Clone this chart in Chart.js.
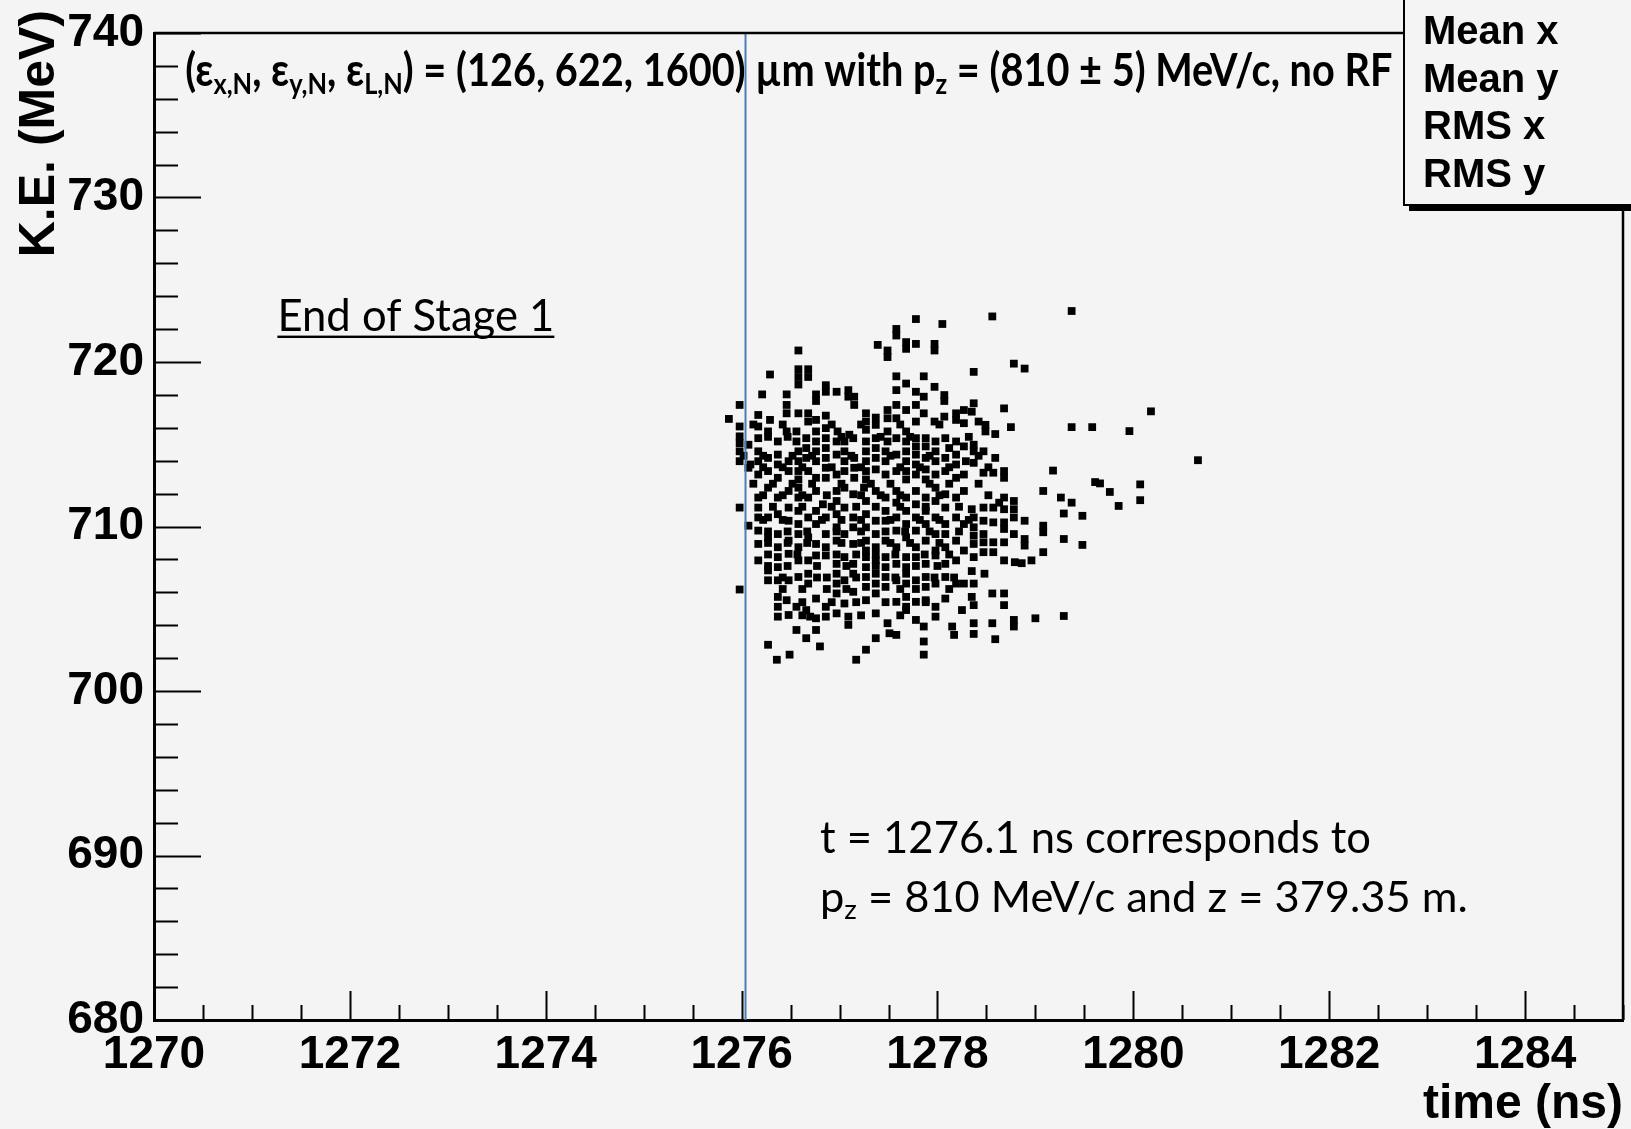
<!DOCTYPE html>
<html lang="en">
<head>
  <meta charset="UTF-8">
  <title>End of Stage 1 - K.E. vs time</title>
  <script src="https://cdn.jsdelivr.net/npm/chart.js"></script>
  <style>
    html, body { margin: 0; padding: 0; background: #f4f4f4; }
    #wrap { width: 1631px; height: 1129px; }
  </style>
</head>
<body>
<div id="wrap"><canvas id="phaseChart" width="1631" height="1129"></canvas></div>
<script>
// axis ranges and tick labels
const timeRange = [1270, 1285];
const energyRange = [680, 740];
const timeTicks = [1270, 1272, 1274, 1276, 1278, 1280, 1282, 1284];
const energyTicks = [680, 690, 700, 710, 720, 730, 740];
const timeMinorStep = 0.5;
const energyMinorStep = 2;
const referenceTime = 1276.04;   // blue marker line
const statLabels = ['Mean x', 'Mean y', 'RMS x', 'RMS y'];

// particles: [time (ns), K.E. (MeV)]
const haloTop = [
  [1279.37,723.10],[1278.56,722.77],[1277.78,722.61],[1278.05,722.31],[1277.58,722.01],[1277.58,721.61],
  [1277.39,721.04],[1277.68,721.21],[1277.68,720.80],[1277.78,721.10],[1277.97,721.10],[1277.97,720.70],
  [1277.49,720.70],[1277.49,720.30],[1276.58,720.70],[1278.78,719.90],[1278.89,719.60],[1278.37,719.40],
  [1276.29,719.24],[1276.58,719.56],[1276.68,719.56],[1276.58,719.09],[1276.68,719.09],[1276.58,718.63],
  [1277.58,719.13],[1277.86,719.13],[1277.68,718.69],[1276.86,718.59],[1277.97,718.49]
];
const coreUpper = [
  [1276.21,718.03],[1276.46,718.03],[1276.76,718.03],[1276.76,717.63],[1276.86,718.19],[1276.97,718.19],
  [1277.09,718.29],[1277.09,717.89],[1277.15,717.89],[1277.15,717.39],[1277.58,718.29],[1277.78,718.19],
  [1277.86,717.89],[1278.07,717.99],[1278.07,717.63],[1277.78,717.39],[1275.98,717.39],[1276.46,717.39],
  [1277.58,717.39],[1278.37,717.49],[1275.87,716.54],[1276.17,716.78],[1276.29,716.48],[1276.58,716.88],
  [1276.68,716.88],[1276.46,716.88],[1276.86,716.74],[1276.76,716.48],[1276.68,716.38],[1277.27,716.88],
  [1277.27,716.38],[1277.37,716.62],[1277.37,716.18],[1277.49,717.08],[1277.49,716.58],[1277.58,716.58],
  [1277.68,717.08],[1277.86,716.88],[1277.78,716.38],[1277.97,716.38],[1278.07,716.68],[1278.19,716.88],
  [1278.27,717.08],[1278.35,716.98],[1278.19,716.48],[1278.27,716.28],[1275.98,716.08],[1276.17,716.08],
  [1276.27,715.78],[1276.46,715.78],[1276.56,715.78],[1276.86,715.98],[1276.98,715.78],[1277.10,715.58],
  [1277.68,715.78],[1277.49,715.78],[1278.42,716.38],[1278.49,716.18],[1278.49,715.78],[1278.59,715.62],
  [1277.27,715.88],[1276.76,715.78]
];
const coreMiddle = [
  [1275.98,715.48],[1275.98,715.07],[1276.07,714.97],[1276.17,715.37],[1276.37,715.17],[1276.56,715.17],
  [1276.66,715.37],[1276.76,715.17],[1276.86,715.37],[1276.97,715.17],[1277.05,715.17],[1277.14,715.37],
  [1277.27,715.17],[1277.37,715.37],[1277.49,715.17],[1277.78,715.37],[1277.78,714.87],[1277.88,715.37],
  [1277.88,714.87],[1277.98,715.17],[1278.08,715.37],[1278.12,714.77],[1278.19,715.17],[1278.27,714.87],
  [1278.37,714.97],[1278.37,714.57],[1278.47,714.57],[1278.59,714.17],[1277.58,715.37],[1277.68,715.17],
  [1275.98,714.57],[1275.98,713.97],[1276.09,713.77],[1276.17,714.57],[1276.17,713.97],[1276.27,714.17],
  [1276.37,714.37],[1276.37,713.77],[1276.48,713.97],[1276.58,714.57],[1276.58,713.97],[1276.66,714.77],
  [1276.66,714.17],[1276.76,714.57],[1276.76,713.97],[1276.86,714.77],[1276.86,714.17],[1276.97,714.37],
  [1277.05,714.57],[1277.05,713.97],[1277.15,714.17],[1277.27,714.57],[1277.27,713.97],[1277.37,714.77],
  [1277.37,714.17],[1277.47,714.57],[1277.47,713.97],[1277.58,714.37],[1277.68,714.57],[1277.68,713.97],
  [1277.78,714.37],[1277.78,713.77],[1277.88,714.17],[1277.98,714.57],[1277.98,713.97],[1278.08,714.17],
  [1278.19,714.37],[1278.19,713.77],[1278.29,713.97],[1278.37,713.87],
  [1276.07,713.57],[1276.17,713.16],[1276.27,713.37],[1276.37,712.96],[1276.48,713.37],[1276.58,713.37],
  [1276.58,712.86],[1276.68,713.37],[1276.76,712.96],[1276.86,713.57],[1276.86,712.96],[1276.97,713.16],
  [1277.05,713.37],[1277.15,713.57],[1277.15,712.96],[1277.27,713.37],[1277.27,712.86],[1277.37,713.47],
  [1277.47,713.16],[1277.58,713.37],[1277.68,713.37],[1277.68,712.86],[1277.78,713.16],[1277.88,713.47],
  [1277.88,712.86],[1277.98,713.16],[1278.08,713.37],[1278.19,712.96],[1278.27,713.16],[1278.47,713.27],
  [1278.57,713.27],[1278.68,713.37],[1278.68,712.96]
];
const coreLower = [
  [1276.17,711.76],[1276.27,712.36],[1276.37,711.76],[1276.48,712.16],[1276.58,712.36],[1276.58,711.76],
  [1276.68,711.76],[1276.76,712.16],[1276.83,711.35],[1276.97,712.16],[1276.97,711.55],[1277.05,712.36],
  [1277.14,711.96],[1277.25,712.36],[1277.27,711.55],[1277.37,712.16],[1277.47,711.76],[1277.58,712.16],
  [1277.58,711.45],[1277.68,711.76],[1277.78,712.16],[1277.78,711.35],[1277.88,711.76],[1277.98,712.36],
  [1277.98,711.55],[1278.08,711.96],[1278.19,711.76],[1278.27,712.16],[1275.98,711.15],
  [1276.07,710.05],[1276.17,710.55],[1276.17,711.15],[1276.27,710.55],[1276.37,710.75],[1276.48,711.15],
  [1276.48,710.35],[1276.58,710.95],[1276.58,710.15],[1276.68,710.55],[1276.76,710.95],[1276.76,710.15],
  [1276.86,710.55],[1276.97,710.75],[1276.97,709.95],[1277.05,711.15],[1277.14,710.55],[1277.14,709.95],
  [1277.27,710.75],[1277.27,709.95],[1277.37,710.35],[1277.47,710.95],[1277.47,710.35],[1277.58,710.55],
  [1277.68,710.95],[1277.68,710.15],[1277.78,710.55],[1277.88,710.95],[1277.88,710.15],[1277.98,710.55],
  [1278.08,711.15],[1278.08,710.15],[1278.19,710.55],[1278.27,710.15],
  [1276.17,709.75],[1276.17,708.94],[1276.27,709.34],[1276.37,709.54],[1276.37,708.74],[1276.48,709.14],
  [1276.58,709.54],[1276.58,708.74],[1276.68,709.34],[1276.76,708.94],[1276.86,709.54],[1276.86,708.74],
  [1276.97,709.14],[1277.05,709.54],[1277.14,708.94],[1277.27,709.14],[1277.27,708.54],[1277.37,709.54],
  [1277.37,708.74],[1277.47,709.14],[1277.58,709.75],[1277.58,708.74],[1277.68,709.34],[1277.78,709.75],
  [1277.78,708.74],[1277.88,709.14],[1277.98,708.54],[1277.98,709.54],[1278.08,709.54],[1278.08,708.74],
  [1278.19,709.14],[1278.27,708.54]
];
const coreBottom = [
  [1276.17,707.94],[1276.27,707.33],[1276.37,708.14],[1276.37,707.53],[1276.48,708.34],[1276.58,707.94],
  [1276.68,707.94],[1276.76,708.24],[1276.86,708.24],[1276.97,707.73],[1277.05,708.14],[1277.14,707.73],
  [1277.27,708.14],[1277.27,707.53],[1277.37,707.94],[1277.47,708.14],[1277.47,707.53],[1277.58,707.73],
  [1277.68,708.14],[1277.68,707.53],[1277.78,708.14],[1277.88,707.73],[1277.98,708.24],[1278.08,707.73],
  [1278.19,707.94],
  [1276.27,706.73],[1276.37,706.73],[1276.48,706.73],[1276.58,706.93],[1276.68,707.13],[1276.68,706.53],
  [1276.97,707.13],[1276.97,706.53],[1277.05,706.73],[1277.14,707.13],[1277.27,706.93],[1277.27,706.33],
  [1277.37,707.13],[1277.37,706.53],[1277.47,706.93],[1277.47,706.33],[1277.58,706.73],[1277.68,707.13],
  [1277.68,706.53],[1277.78,706.73],[1277.88,706.93],[1277.88,706.33],[1277.98,706.53],[1278.08,706.93],
  [1278.19,706.53],[1278.27,706.53],[1275.98,706.17],
  [1276.37,705.72],[1276.46,705.52],[1276.37,705.12],[1276.56,705.12],[1276.66,704.92],[1276.76,705.62],
  [1276.86,705.12],[1276.97,705.93],[1277.05,705.32],[1277.14,706.03],[1277.27,705.52],[1277.37,705.93],
  [1277.58,705.42],[1277.68,705.72],[1277.68,705.12],[1277.78,705.42],[1277.88,705.52],[1277.98,705.12],
  [1278.08,705.62],[1278.25,704.92],
  [1276.37,704.52],[1276.48,704.62],[1276.70,704.52],[1276.76,704.42],[1276.86,704.52],[1276.97,704.72],
  [1277.09,704.52],[1277.09,704.02],[1277.37,704.72],[1277.49,704.12],[1277.68,704.92],[1277.78,704.32],
  [1277.86,703.92],[1277.98,704.52],[1278.15,703.92]
];
// extra points in the crowded centre, between the rows above
const coreFill = [
  [1276.12,716.20],[1276.42,716.20],[1276.92,716.20],[1277.22,716.20],[1277.62,716.20],[1278.02,716.20],
  [1276.27,715.45],[1276.47,715.45],[1277.02,715.45],[1277.42,715.45],[1277.72,715.45],[1278.32,715.45],
  [1276.02,714.30],[1276.22,714.30],[1276.52,714.30],[1276.72,714.30],[1277.12,714.30],[1277.52,714.30],
  [1277.92,714.30],[1278.42,714.30],
  [1276.22,713.60],[1276.42,713.60],[1276.62,713.60],[1276.92,713.60],[1277.22,713.60],[1277.62,713.60],
  [1277.82,713.60],[1278.12,713.60],[1278.52,713.60],
  [1276.12,712.60],[1276.32,712.60],[1276.52,712.60],[1276.72,712.60],[1277.02,712.60],[1277.32,712.60],
  [1277.52,712.60],[1277.92,712.60],[1278.12,712.60],[1278.42,712.60],
  [1276.22,711.90],[1276.42,711.90],[1276.62,711.90],[1276.87,711.90],[1277.22,711.90],[1277.42,711.90],
  [1277.62,711.90],[1278.02,711.90],[1278.52,711.90],
  [1276.32,711.20],[1276.62,711.20],[1276.92,711.20],[1277.17,711.20],[1277.37,711.20],[1277.62,711.20],
  [1277.88,711.20],[1278.22,711.20],
  [1276.22,710.40],[1276.42,710.40],[1276.82,710.40],[1277.02,710.40],[1277.22,710.40],[1277.52,710.40],
  [1277.82,710.40],[1278.02,710.40],[1278.32,710.40],
  [1276.27,709.70],[1276.47,709.70],[1276.67,709.70],[1276.97,709.70],[1277.22,709.70],[1277.47,709.70],
  [1277.67,709.70],[1277.92,709.70],[1278.22,709.70],
  [1276.27,709.00],[1276.47,709.00],[1276.67,709.00],[1277.02,709.00],[1277.22,709.00],[1277.52,709.00],
  [1277.72,709.00],[1278.02,709.00],
  [1276.27,708.30],[1276.57,708.30],[1276.97,708.30],[1277.17,708.30],[1277.37,708.30],[1277.57,708.30],
  [1277.87,708.30],[1278.12,708.30],
  [1276.27,707.60],[1276.47,707.60],[1276.77,707.60],[1277.07,707.60],[1277.37,707.60],[1277.78,707.60],
  [1278.00,707.60],
  [1276.42,706.90],[1276.77,706.90],[1276.87,706.90],[1277.17,706.90],[1277.57,706.90],[1277.97,706.90],
  [1278.17,706.90],
  [1276.42,706.20],[1276.62,706.20],[1276.87,706.20],[1277.07,706.20],[1277.62,706.20],[1277.78,706.20],
  [1278.12,706.20],
  [1276.62,705.40],[1276.92,705.40],[1277.17,705.40],[1277.47,705.40],[1277.88,705.40],
  [1276.62,704.60],[1277.22,704.60],[1277.62,704.60]
];
const haloBottom = [
  [1276.27,702.81],[1276.56,703.71],[1276.66,703.21],[1276.76,703.71],[1276.80,702.71],[1276.36,701.90],
  [1276.49,702.21],[1277.17,701.90],[1277.27,702.51],[1277.37,703.21],[1277.51,703.51],[1277.58,703.41],
  [1277.86,703.01],[1277.86,702.21],[1278.17,703.41]
];
const coreRight = [
  [1278.35,711.05],[1278.47,711.15],[1278.57,711.15],[1278.63,711.45],[1278.68,711.76],[1278.68,711.05],
  [1278.78,711.55],[1278.78,711.05],[1278.78,710.55],[1278.57,710.25],[1278.68,710.25],[1278.68,709.85],
  [1278.37,709.95],[1278.37,709.44],[1278.47,709.54],[1278.37,708.94],[1278.47,709.04],[1278.57,709.04],
  [1278.68,709.04],[1278.89,710.35],[1278.78,709.54],[1278.89,709.24],[1278.89,708.84],[1278.37,710.55],
  [1278.47,710.35],[1278.47,708.44],[1278.57,708.44],[1278.96,707.94],[1278.79,707.83],[1278.86,707.77],
  [1278.68,707.94],[1278.37,708.14],[1278.35,707.29],[1278.48,707.13],[1278.37,706.53],[1278.56,705.93],
  [1278.68,705.93],[1278.35,705.72],[1278.37,705.22],[1278.68,705.22],[1278.78,704.32],[1278.78,703.92],
  [1278.56,704.12],[1278.37,704.12],[1278.37,703.47],[1278.59,703.15]
];
const tailRight = [
  [1279.08,712.16],[1279.26,711.76],[1279.37,711.45],[1279.29,710.79],[1279.48,710.65],[1279.29,709.24],
  [1279.48,708.88],[1279.08,710.05],[1279.08,709.65],[1279.08,708.44],[1279.18,713.40],[1279.61,712.70],
  [1279.66,712.62],[1280.07,712.56],[1280.07,711.60],[1279.76,712.10],[1279.85,711.25],[1279.00,704.42],
  [1279.29,704.56],[1280.18,717.00],[1279.96,715.80],[1279.37,716.04],[1279.58,716.04],[1280.66,714.03],
  [1278.75,716.04],[1278.68,717.18]
];

const particles = [...haloTop, ...coreUpper, ...coreMiddle, ...coreLower, ...coreBottom,
                   ...coreFill, ...haloBottom, ...coreRight, ...tailRight]
  .map(([t, e]) => ({ x: t, y: e }));

// slide annotations, anchored in data units
const annotations = [
  { parts: [{ text: '(\u03b5' }, { text: 'x,N', sub: true }, { text: ', \u03b5' }, { text: 'y,N', sub: true },
            { text: ', \u03b5' }, { text: 'L,N', sub: true }, { text: ') = (126, 622, 1600) \u00b5m with p' },
            { text: 'z', sub: true }, { text: ' = (810 \u00b1 5) MeV/c, no RF' }],
    t: 1270.32, e: 736.75, weight: 'bold', size: 45, width: 1207 },
  { parts: [{ text: 'End of Stage 1' }], t: 1271.26, e: 721.87, weight: 'normal', width: 277, underline: true },
  { parts: [{ text: 't = 1276.1 ns corresponds to' }], t: 1276.80, e: 690.18, weight: 'normal', width: 551 },
  { parts: [{ text: 'p' }, { text: 'z', sub: true }, { text: ' = 810 MeV/c and z = 379.35 m.' }],
    t: 1276.80, e: 686.56, weight: 'normal', width: 648 }
];

const ROOT_FONT = '"Liberation Sans", Arial, sans-serif';
const SLIDE_FONT = 'Lato, "Open Sans", sans-serif';

function eachStep(min, max, step, fn) {
  const n = Math.round((max - min) / step);
  for (let i = 0; i <= n; i++) fn(min + i * step);
}

// text runs with subscripts; squeezed horizontally when a size is given
function drawRich(ctx, a, x, y) {
  const subScale = 0.64;
  const widthAt = size => a.parts.reduce((w, p) => {
    ctx.font = `${a.weight} ${p.sub ? size * subScale : size}px ${SLIDE_FONT}`;
    return w + ctx.measureText(p.text).width;
  }, 0);
  let size, sx = 1;
  if (a.size) {
    size = a.size;
    sx = a.width / widthAt(size);
  } else {
    size = 100 * a.width / widthAt(100);
  }
  ctx.save();
  ctx.translate(x, y);
  ctx.scale(sx, 1);
  let cx = 0;
  a.parts.forEach(p => {
    ctx.font = `${a.weight} ${p.sub ? size * subScale : size}px ${SLIDE_FONT}`;
    ctx.fillText(p.text, cx, p.sub ? size * 0.17 : 0);
    cx += ctx.measureText(p.text).width;
  });
  if (a.underline) ctx.fillRect(0, size * 0.1, cx, Math.max(2, size * 0.055));
  ctx.restore();
}

const rootStyle = {
  id: 'rootStyle',
  beforeDraw(chart) {
    const ctx = chart.ctx;
    ctx.save();
    ctx.fillStyle = '#f4f4f4';
    ctx.fillRect(0, 0, chart.width, chart.height);
    ctx.restore();
  },
  beforeDatasetsDraw(chart) {
    const { ctx, scales: { x, y } } = chart;
    ctx.save();
    ctx.fillStyle = '#000';
    ctx.textBaseline = 'alphabetic';
    ctx.textAlign = 'left';
    annotations.forEach(a => drawRich(ctx, a, x.getPixelForValue(a.t), y.getPixelForValue(a.e)));
    ctx.restore();
  },
  afterDatasetsDraw(chart) {
    const { ctx, chartArea: ca, scales: { x, y } } = chart;
    ctx.save();
    ctx.strokeStyle = '#000';
    // frame top + right
    ctx.lineWidth = 2.5;
    ctx.beginPath();
    ctx.moveTo(ca.left, ca.top);
    ctx.lineTo(ca.right, ca.top);
    ctx.lineTo(ca.right, ca.bottom);
    ctx.stroke();
    // ticks drawn inward, ROOT style
    ctx.lineWidth = 2;
    ctx.beginPath();
    eachStep(timeRange[0], timeRange[1], timeMinorStep, t => {
      const major = timeTicks.some(v => Math.abs(v - t) < 1e-6);
      const px = Math.round(x.getPixelForValue(t)) + 0.5;
      ctx.moveTo(px, ca.bottom);
      ctx.lineTo(px, ca.bottom - (major ? 29 : 15));
    });
    eachStep(energyRange[0], energyRange[1], energyMinorStep, e => {
      const major = energyTicks.some(v => Math.abs(v - e) < 1e-6);
      const py = Math.round(y.getPixelForValue(e)) + 0.5;
      ctx.moveTo(ca.left, py);
      ctx.lineTo(ca.left + (major ? 47 : 24), py);
    });
    ctx.stroke();
    ctx.restore();
  },
  afterDraw(chart) {
    const ctx = chart.ctx;
    ctx.save();
    ctx.fillStyle = '#000';
    // axis titles
    ctx.font = `bold 50px ${ROOT_FONT}`;
    ctx.textBaseline = 'alphabetic';
    ctx.save();
    ctx.translate(54, 10);
    ctx.rotate(-Math.PI / 2);
    ctx.textAlign = 'right';
    ctx.fillText('K.E. (MeV)', 0, 0);
    ctx.restore();
    ctx.font = `bold 48px ${ROOT_FONT}`;
    ctx.textAlign = 'right';
    ctx.fillText('time (ns)', 1623, 1118);
    // stats box (clipped by the page edge)
    ctx.fillRect(1409, 205, 240, 6);
    ctx.fillStyle = '#f4f4f4';
    ctx.fillRect(1404, -5, 240, 210);
    ctx.strokeStyle = '#000';
    ctx.lineWidth = 2;
    ctx.strokeRect(1404, -5, 240, 210);
    ctx.fillStyle = '#000';
    ctx.textAlign = 'left';
    ctx.font = `bold 40px ${ROOT_FONT}`;
    statLabels.forEach((s, i) => ctx.fillText(s, 1423, 44 + i * 47.7));
    ctx.restore();
  }
};

new Chart(document.getElementById('phaseChart'), {
  type: 'scatter',
  data: {
    datasets: [
      {
        type: 'line',
        label: 't ref',
        data: [{ x: referenceTime, y: energyRange[0] }, { x: referenceTime, y: energyRange[1] }],
        borderColor: '#4a7ebb',
        borderWidth: 2,
        pointRadius: 0,
        showLine: true
      },
      {
        label: 'particles',
        data: particles,
        pointStyle: 'rect',
        pointRadius: 5.5,
        pointBorderWidth: 0,
        backgroundColor: '#000',
        borderWidth: 0
      }
    ]
  },
  options: {
    responsive: false,
    animation: false,
    events: [],
    layout: { padding: { top: 25, right: 3, left: 0, bottom: 0 } },
    plugins: { legend: { display: false }, tooltip: { enabled: false } },
    scales: {
      x: {
        type: 'linear',
        min: timeRange[0],
        max: timeRange[1],
        grid: { display: false, drawTicks: false },
        border: { display: true, color: '#000', width: 3 },
        ticks: {
          stepSize: timeMinorStep,
          autoSkip: false,
          maxRotation: 0,
          padding: 8,
          color: '#000',
          font: { family: ROOT_FONT, size: 46, weight: 'bold' },
          callback: v => (timeTicks.includes(v) ? String(v) : '')
        },
        afterFit: s => { s.height = 109; }
      },
      y: {
        type: 'linear',
        min: energyRange[0],
        max: energyRange[1],
        grid: { display: false, drawTicks: false },
        border: { display: true, color: '#000', width: 3 },
        ticks: {
          stepSize: 10,
          autoSkip: false,
          padding: 10,
          color: '#000',
          font: { family: ROOT_FONT, size: 46, weight: 'bold', lineHeight: 1 },
          callback: v => (energyTicks.includes(v) ? String(v) : '')
        },
        afterFit: s => { s.width = 154; }
      }
    }
  },
  plugins: [rootStyle]
});
</script>
</body>
</html>
